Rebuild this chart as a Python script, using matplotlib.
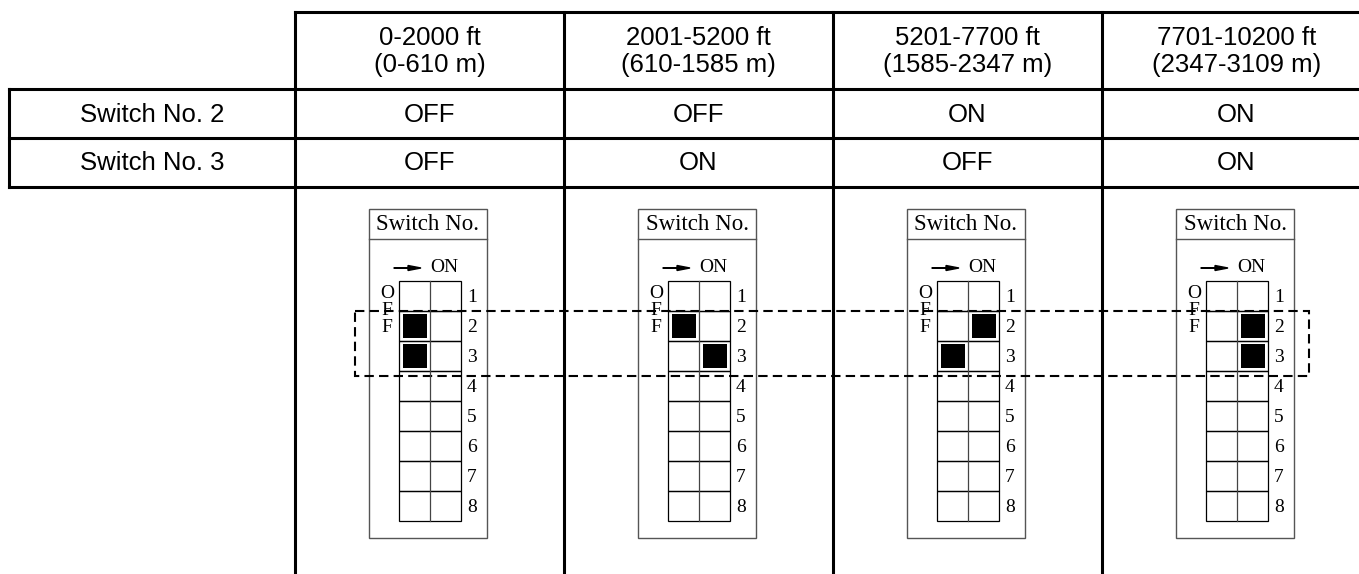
import matplotlib.pyplot as plt
from matplotlib.patches import Rectangle, FancyArrow

# ---- table data ----
altitudes = ["0-2000 ft\n(0-610 m)", "2001-5200 ft\n(610-1585 m)",
             "5201-7700 ft\n(1585-2347 m)", "7701-10200 ft\n(2347-3109 m)"]
row_labels = ["Switch No. 2", "Switch No. 3"]
switch2 = ["OFF", "OFF", "ON", "ON"]
switch3 = ["OFF", "ON", "OFF", "ON"]
switch_numbers = [1, 2, 3, 4, 5, 6, 7, 8]

W, H = 1359, 574
fig = plt.figure(figsize=(W / 100, H / 100), dpi=100)
ax = fig.add_axes([0, 0, 1, 1])
ax.set_xlim(0, W)
ax.set_ylim(H, 0)
ax.axis('off')

sans = ['Liberation Sans', 'DejaVu Sans']
serif = ['Liberation Serif', 'DejaVu Serif']

# ---- table grid ----
col_x = [295, 564, 833, 1102, 1371]
row_y = [12, 89, 138, 187]
left_x = 9
tlw = 2.2
fs = 18.5

def line(x, y, **kw):
    ax.plot(x, y, color='black', solid_capstyle='projecting', **kw)

line([col_x[0], W], [row_y[0]] * 2, lw=tlw)
for y in row_y[1:]:
    line([left_x, W], [y, y], lw=tlw)
line([left_x, left_x], [row_y[1], row_y[3]], lw=tlw)
for x in col_x[:-1]:
    line([x, x], [row_y[0], H + 5], lw=tlw)

# header text
for i, txt in enumerate(altitudes):
    cx = (col_x[i] + col_x[i + 1]) / 2
    ax.text(cx, (row_y[0] + row_y[1]) / 2 + 1, txt, ha='center', va='center',
            fontsize=fs, family=sans, linespacing=1.15)

# row text
for r, (lab, vals) in enumerate(zip(row_labels, [switch2, switch3])):
    cy = (row_y[r + 1] + row_y[r + 2]) / 2 + 1
    ax.text((left_x + col_x[0]) / 2, cy, lab, ha='center', va='center',
            fontsize=fs, family=sans)
    for i, v in enumerate(vals):
        cx = (col_x[i] + col_x[i + 1]) / 2
        ax.text(cx, cy, v, ha='center', va='center', fontsize=fs, family=sans)

# ---- DIP switch drawings ----
for i in range(len(altitudes)):
    x0 = col_x[i] + 74
    # outer box
    ax.add_patch(Rectangle((x0, 209), 118, 329, fill=False,
                           edgecolor='#555555', lw=1.0))
    ax.plot([x0, x0 + 118], [239, 239], color='#555555', lw=1.0)
    ax.text(x0 + 59, 225, "Switch No.", ha='center', va='center',
            fontsize=16.5, family=serif)
    # arrow + ON
    ax.add_patch(FancyArrow(x0 + 25, 268, 27, 0, width=0.6, head_width=5,
                            head_length=13, length_includes_head=True,
                            color='black'))
    ax.text(x0 + 61, 268, "ON", ha='left', va='center', fontsize=14,
            family=serif)
    # OFF vertical
    for k, ch in enumerate("OFF"):
        ax.text(x0 + 18, 293 + k * 17.5, ch, ha='center', va='center',
                fontsize=14, family=serif)
    # grid
    gx, gy, cw, ch_ = x0 + 30, 281, 31, 30
    for n in switch_numbers:
        y = gy + (n - 1) * ch_
        ax.add_patch(Rectangle((gx, y), 2 * cw, ch_, fill=False,
                               edgecolor='black', lw=0.9))
        ax.text(gx + 2 * cw + 6, y + ch_ / 2 + 1, str(n), ha='left',
                va='center', fontsize=14, family=serif)
    ax.plot([gx + cw, gx + cw], [gy, gy + 8 * ch_], color='#444444', lw=0.9)
    # filled positions for switch 2 and 3
    for n, state in [(2, switch2[i]), (3, switch3[i])]:
        cx = gx if state == "OFF" else gx + cw
        y = gy + (n - 1) * ch_
        ax.add_patch(Rectangle((cx + 3.5, y + 3), cw - 7, ch_ - 6,
                               facecolor='black', edgecolor='none'))

# dashed highlight of switches 2 and 3
ax.add_patch(Rectangle((355, 311), 1309 - 355, 376 - 311, fill=False,
                       edgecolor='black', lw=1.5, linestyle=(0, (4.5, 2.5))))

fig.savefig('out.png', dpi=100)
